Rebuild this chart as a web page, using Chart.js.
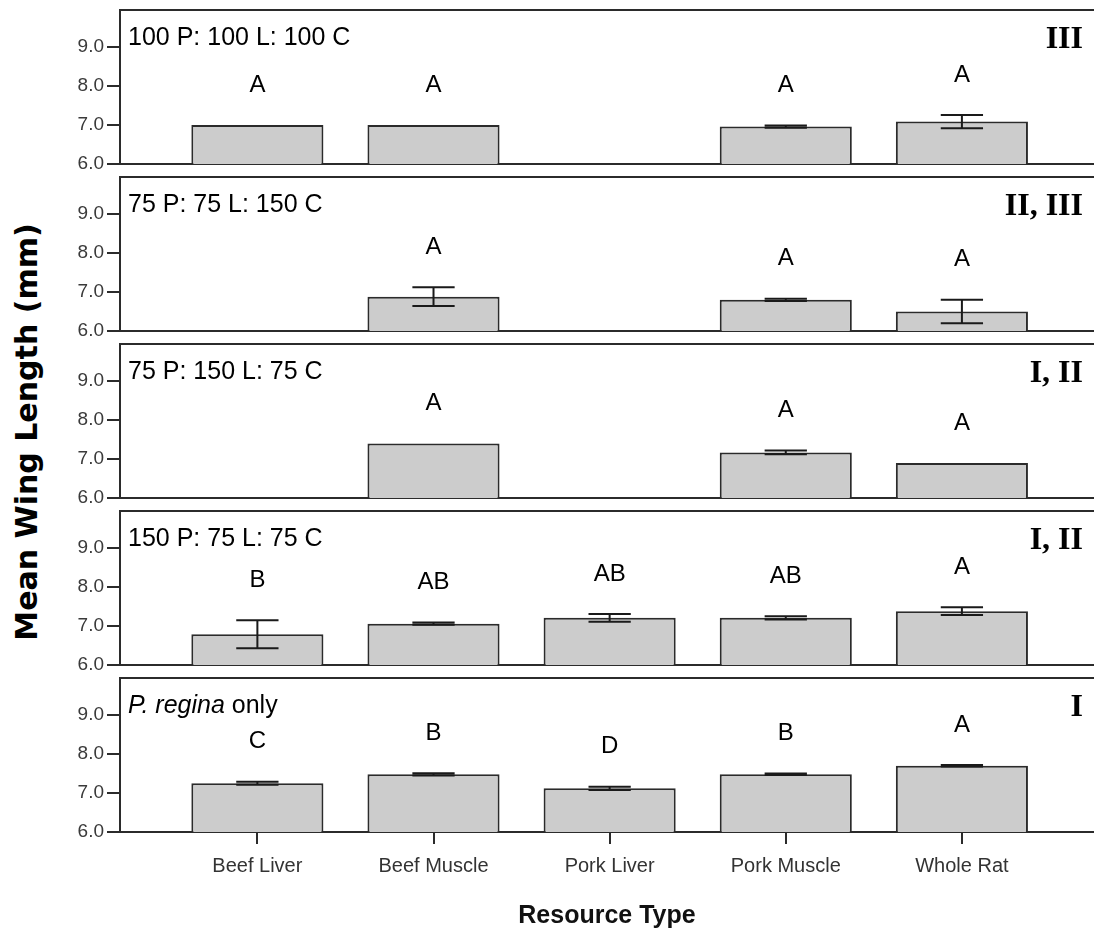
<!DOCTYPE html>
<html>
<head>
<meta charset="utf-8">
<script src="https://cdn.jsdelivr.net/npm/chart.js@4.4.1/dist/chart.umd.min.js"></script>
<style>
  html, body { margin: 0; padding: 0; background: #fff; }
  #wrap { position: relative; width: 1094px; height: 934px; overflow: hidden; }
  .panel { position: absolute; left: 0; width: 1094px; }
  #ytitle {
    position: absolute; left: 27px; top: 432px;
    transform: translate(-50%, -50%) rotate(-90deg);
    font: bold 30px "DejaVu Sans", Verdana, sans-serif;
    line-height: 1; white-space: nowrap; color: #000;
  }
</style>
</head>
<body>
<div id="wrap">
  <div id="ytitle">Mean Wing Length (mm)</div>
</div>
<script>
const categories = ["Beef Liver", "Beef Muscle", "Pork Liver", "Pork Muscle", "Whole Rat"];
const yTicks = [6, 7, 8, 9];

const panelNames = ["100 P: 100 L: 100 C", "75 P: 75 L: 150 C", "75 P: 150 L: 75 C", "150 P: 75 L: 75 C", "P. regina only"];
const romanGroups = ["III", "II, III", "I, II", "I, II", "I"];

// mean wing length per resource, one array per panel (null = no flies)
const means100_100_100 = [7.0, 7.0, null, 6.96, 7.09];
const means75_75_150   = [null, 6.88, null, 6.8, 6.5];
const means75_150_75   = [null, 7.4, null, 7.17, 6.9];
const means150_75_75   = [6.79, 7.06, 7.21, 7.21, 7.38];
const meansRegina      = [7.25, 7.48, 7.12, 7.48, 7.7];

// error bar half-lengths
const err100_100_100 = [0, 0, null, 0.03, 0.17];
const err75_75_150   = [null, 0.24, null, 0.03, 0.3];
const err75_150_75   = [null, 0, null, 0.05, 0];
const err150_75_75   = [0.36, 0.03, 0.1, 0.04, 0.1];
const errRegina      = [0.04, 0.03, 0.04, 0.02, 0.02];

// significance letters
const letters100_100_100 = ["A", "A", "", "A", "A"];
const letters75_75_150   = ["", "A", "", "A", "A"];
const letters75_150_75   = ["", "A", "", "A", "A"];
const letters150_75_75   = ["B", "AB", "AB", "AB", "A"];
const lettersRegina      = ["C", "B", "D", "B", "A"];

const panelMeans = [means100_100_100, means75_75_150, means75_150_75, means150_75_75, meansRegina];
const panelErrs = [err100_100_100, err75_75_150, err75_150_75, err150_75_75, errRegina];
const panelLetters = [letters100_100_100, letters75_75_150, letters75_150_75, letters150_75_75, lettersRegina];

const SANS = '"Liberation Sans", Arial, sans-serif';
const SERIF = '"Liberation Serif", "Times New Roman", serif';
const INK = "#2b2b2b";
const PITCH = 167;

function makePanel(k) {
  const last = k === panelMeans.length - 1;
  const means = panelMeans[k], errs = panelErrs[k], letters = panelLetters[k];
  const h = last ? 934 - k * PITCH : 180;

  const div = document.createElement("div");
  div.className = "panel";
  div.style.top = (k * PITCH) + "px";
  div.style.height = h + "px";
  const canvas = document.createElement("canvas");
  div.appendChild(canvas);
  document.getElementById("wrap").appendChild(div);

  const decor = {
    id: "decor",
    afterDatasetsDraw(chart) {
      const { ctx, scales: { x, y } } = chart;
      const meta = chart.getDatasetMeta(0);
      const half = (x.getPixelForValue(1) - x.getPixelForValue(0)) * 0.12;
      ctx.save();
      ctx.strokeStyle = "#1a1a1a";
      ctx.lineWidth = 2;
      means.forEach((m, i) => {
        const e = errs[i];
        if (m == null || !e) return;
        const px = meta.data[i].x;
        const t = y.getPixelForValue(m + e), b = y.getPixelForValue(m - e);
        ctx.beginPath();
        ctx.moveTo(px, t); ctx.lineTo(px, b);
        ctx.moveTo(px - half, t); ctx.lineTo(px + half, t);
        ctx.moveTo(px - half, b); ctx.lineTo(px + half, b);
        ctx.stroke();
      });
      // letters above bars
      ctx.fillStyle = "#000";
      ctx.font = "24px " + SANS;
      ctx.textAlign = "center";
      ctx.textBaseline = "middle";
      means.forEach((m, i) => {
        if (m == null || !letters[i]) return;
        ctx.fillText(letters[i], meta.data[i].x, y.getPixelForValue(m + (errs[i] || 0)) - 40);
      });
      ctx.restore();
    },
    afterDraw(chart) {
      const { ctx, chartArea: a } = chart;
      ctx.save();
      ctx.strokeStyle = INK;
      ctx.lineWidth = 2;
      ctx.beginPath();
      ctx.moveTo(a.left, a.top);
      ctx.lineTo(a.right, a.top);
      ctx.stroke();

      ctx.fillStyle = "#000";
      ctx.textBaseline = "alphabetic";
      ctx.textAlign = "left";
      const name = panelNames[k];
      const tx = a.left + 8, ty = a.top + 35;
      if (name.startsWith("P. regina")) {
        ctx.font = "italic 25px " + SANS;
        ctx.fillText("P. regina", tx, ty);
        const w = ctx.measureText("P. regina").width;
        ctx.font = "25px " + SANS;
        ctx.fillText(name.slice(9), tx + w, ty);
      } else {
        ctx.font = "25px " + SANS;
        ctx.fillText(name, tx, ty);
      }
      ctx.textAlign = "right";
      ctx.font = "bold 32px " + SERIF;
      ctx.fillText(romanGroups[k], 1083, a.top + 38);
      ctx.restore();
    }
  };

  new Chart(canvas, {
    type: "bar",
    data: {
      datasets: [{
        data: categories.map((c, i) => ({ x: i, y: means[i] })),
        backgroundColor: "#cccccc",
        borderColor: INK,
        borderWidth: 2,
        borderSkipped: false,
        categoryPercentage: 1,
        barPercentage: 0.75,
      }],
    },
    options: {
      responsive: true,
      maintainAspectRatio: false,
      animation: false,
      devicePixelRatio: 1,
      layout: { padding: { top: 10, left: 0, right: 0, bottom: 0 } },
      plugins: { legend: { display: false }, tooltip: { enabled: false } },
      scales: {
        x: {
          type: "linear",
          offset: false,
          min: -0.78,
          max: 4.75,
          afterBuildTicks: (axis) => { axis.ticks = categories.map((c, i) => ({ value: i })); },
          afterFit: (axis) => {
            axis.height = last ? h - 10 - 154 : 16;
            axis.paddingLeft = 0;
            axis.paddingRight = 0;
          },
          border: { display: true, color: INK, width: 2 },
          grid: {
            display: last,
            offset: false,
            drawOnChartArea: false,
            drawTicks: true,
            tickLength: 12,
            color: INK,
            lineWidth: 2,
          },
          ticks: {
            display: last,
            autoSkip: false,
            maxRotation: 0,
            padding: 10,
            color: "#333",
            font: { family: SANS, size: 20 },
            callback: (v) => categories[v],
          },
          title: {
            display: last,
            text: "Resource Type",
            color: "#111",
            font: { family: SANS, size: 25, weight: "bold" },
            padding: { top: 0, bottom: 3 },
          },
        },
        y: {
          min: 6,
          max: 9.95,
          afterBuildTicks: (axis) => { axis.ticks = yTicks.map((v) => ({ value: v })); },
          afterFit: (axis) => {
            axis.width = 120;
            axis.paddingTop = 0;
            axis.paddingBottom = 0;
          },
          border: { display: true, color: INK, width: 2 },
          grid: {
            drawOnChartArea: false,
            drawTicks: true,
            tickLength: 13,
            color: INK,
            lineWidth: 2,
          },
          ticks: {
            padding: 3,
            color: "#3a3a3a",
            font: { family: SANS, size: 19 },
            callback: (v) => v.toFixed(1),
          },
        },
      },
    },
    plugins: [decor],
  });
}

panelMeans.forEach((m, k) => makePanel(k));
</script>
</body>
</html>
